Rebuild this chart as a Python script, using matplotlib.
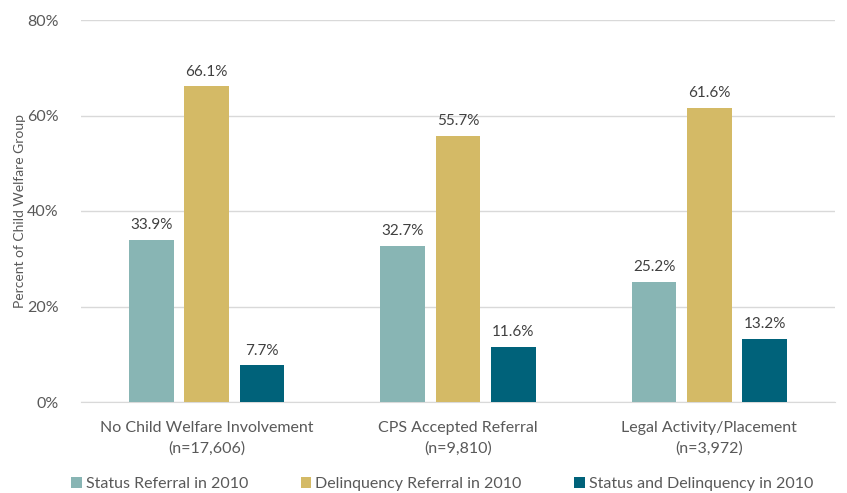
import matplotlib.pyplot as plt
import numpy as np

categories = ["No Child Welfare Involvement\n(n=17,606)",
              "CPS Accepted Referral\n(n=9,810)",
              "Legal Activity/Placement\n(n=3,972)"]
series_names = ["Status Referral in 2010",
                "Delinquency Referral in 2010",
                "Status and Delinquency in 2010"]
status = [33.9, 32.7, 25.2]
delinquency = [66.1, 55.7, 61.6]
both = [7.7, 11.6, 13.2]

colors = ["#88B5B4", "#D4BA66", "#00627A"]
text_color = "#595959"

plt.rcParams["font.family"] = ["Lato", "DejaVu Sans"]

fig = plt.figure(figsize=(8.47, 4.93), dpi=100)
ax = fig.add_axes([81 / 847, 1 - 402 / 493, 754 / 847, 382 / 493])

x = np.arange(len(categories))
width = 0.178
step = 0.22
for i, (vals, name, c) in enumerate(zip([status, delinquency, both], series_names, colors)):
    pos = x + (i - 1) * step
    ax.bar(pos, vals, width, color=c, label=name, zorder=3)
    for xp, v in zip(pos, vals):
        ax.text(xp, v + 1.6, f"{v:.1f}%", ha="center", va="bottom",
                fontsize=11, color="#404040")

ax.set_xlim(-0.5, 2.5)
ax.set_ylim(0, 80)
ax.set_yticks([0, 20, 40, 60, 80])
ax.set_yticklabels([f"{t}%" for t in [0, 20, 40, 60, 80]])
ax.set_xticks(x)
ax.set_xticklabels(categories, linespacing=1.55)
ax.tick_params(axis="both", length=0, labelsize=11.5, colors=text_color)
ax.tick_params(axis="y", pad=16)
ax.tick_params(axis="x", pad=14)
ax.grid(axis="y", color="#D9D9D9", linewidth=1, zorder=0)
for s in ["top", "right", "left"]:
    ax.spines[s].set_visible(False)
ax.spines["bottom"].set_color("#D9D9D9")
ax.set_ylabel("Percent of Child Welfare Group", fontsize=10, color=text_color)
ax.yaxis.set_label_coords(-0.073, 0.5)

fig.legend(loc="center", bbox_to_anchor=(0.522, 1 - 484 / 493), ncol=3, frameon=False,
           fontsize=11.5, handlelength=0.65, handleheight=0.65, handletextpad=0.25,
           columnspacing=3.3, labelcolor=text_color)

fig.savefig("out.png", dpi=100)
